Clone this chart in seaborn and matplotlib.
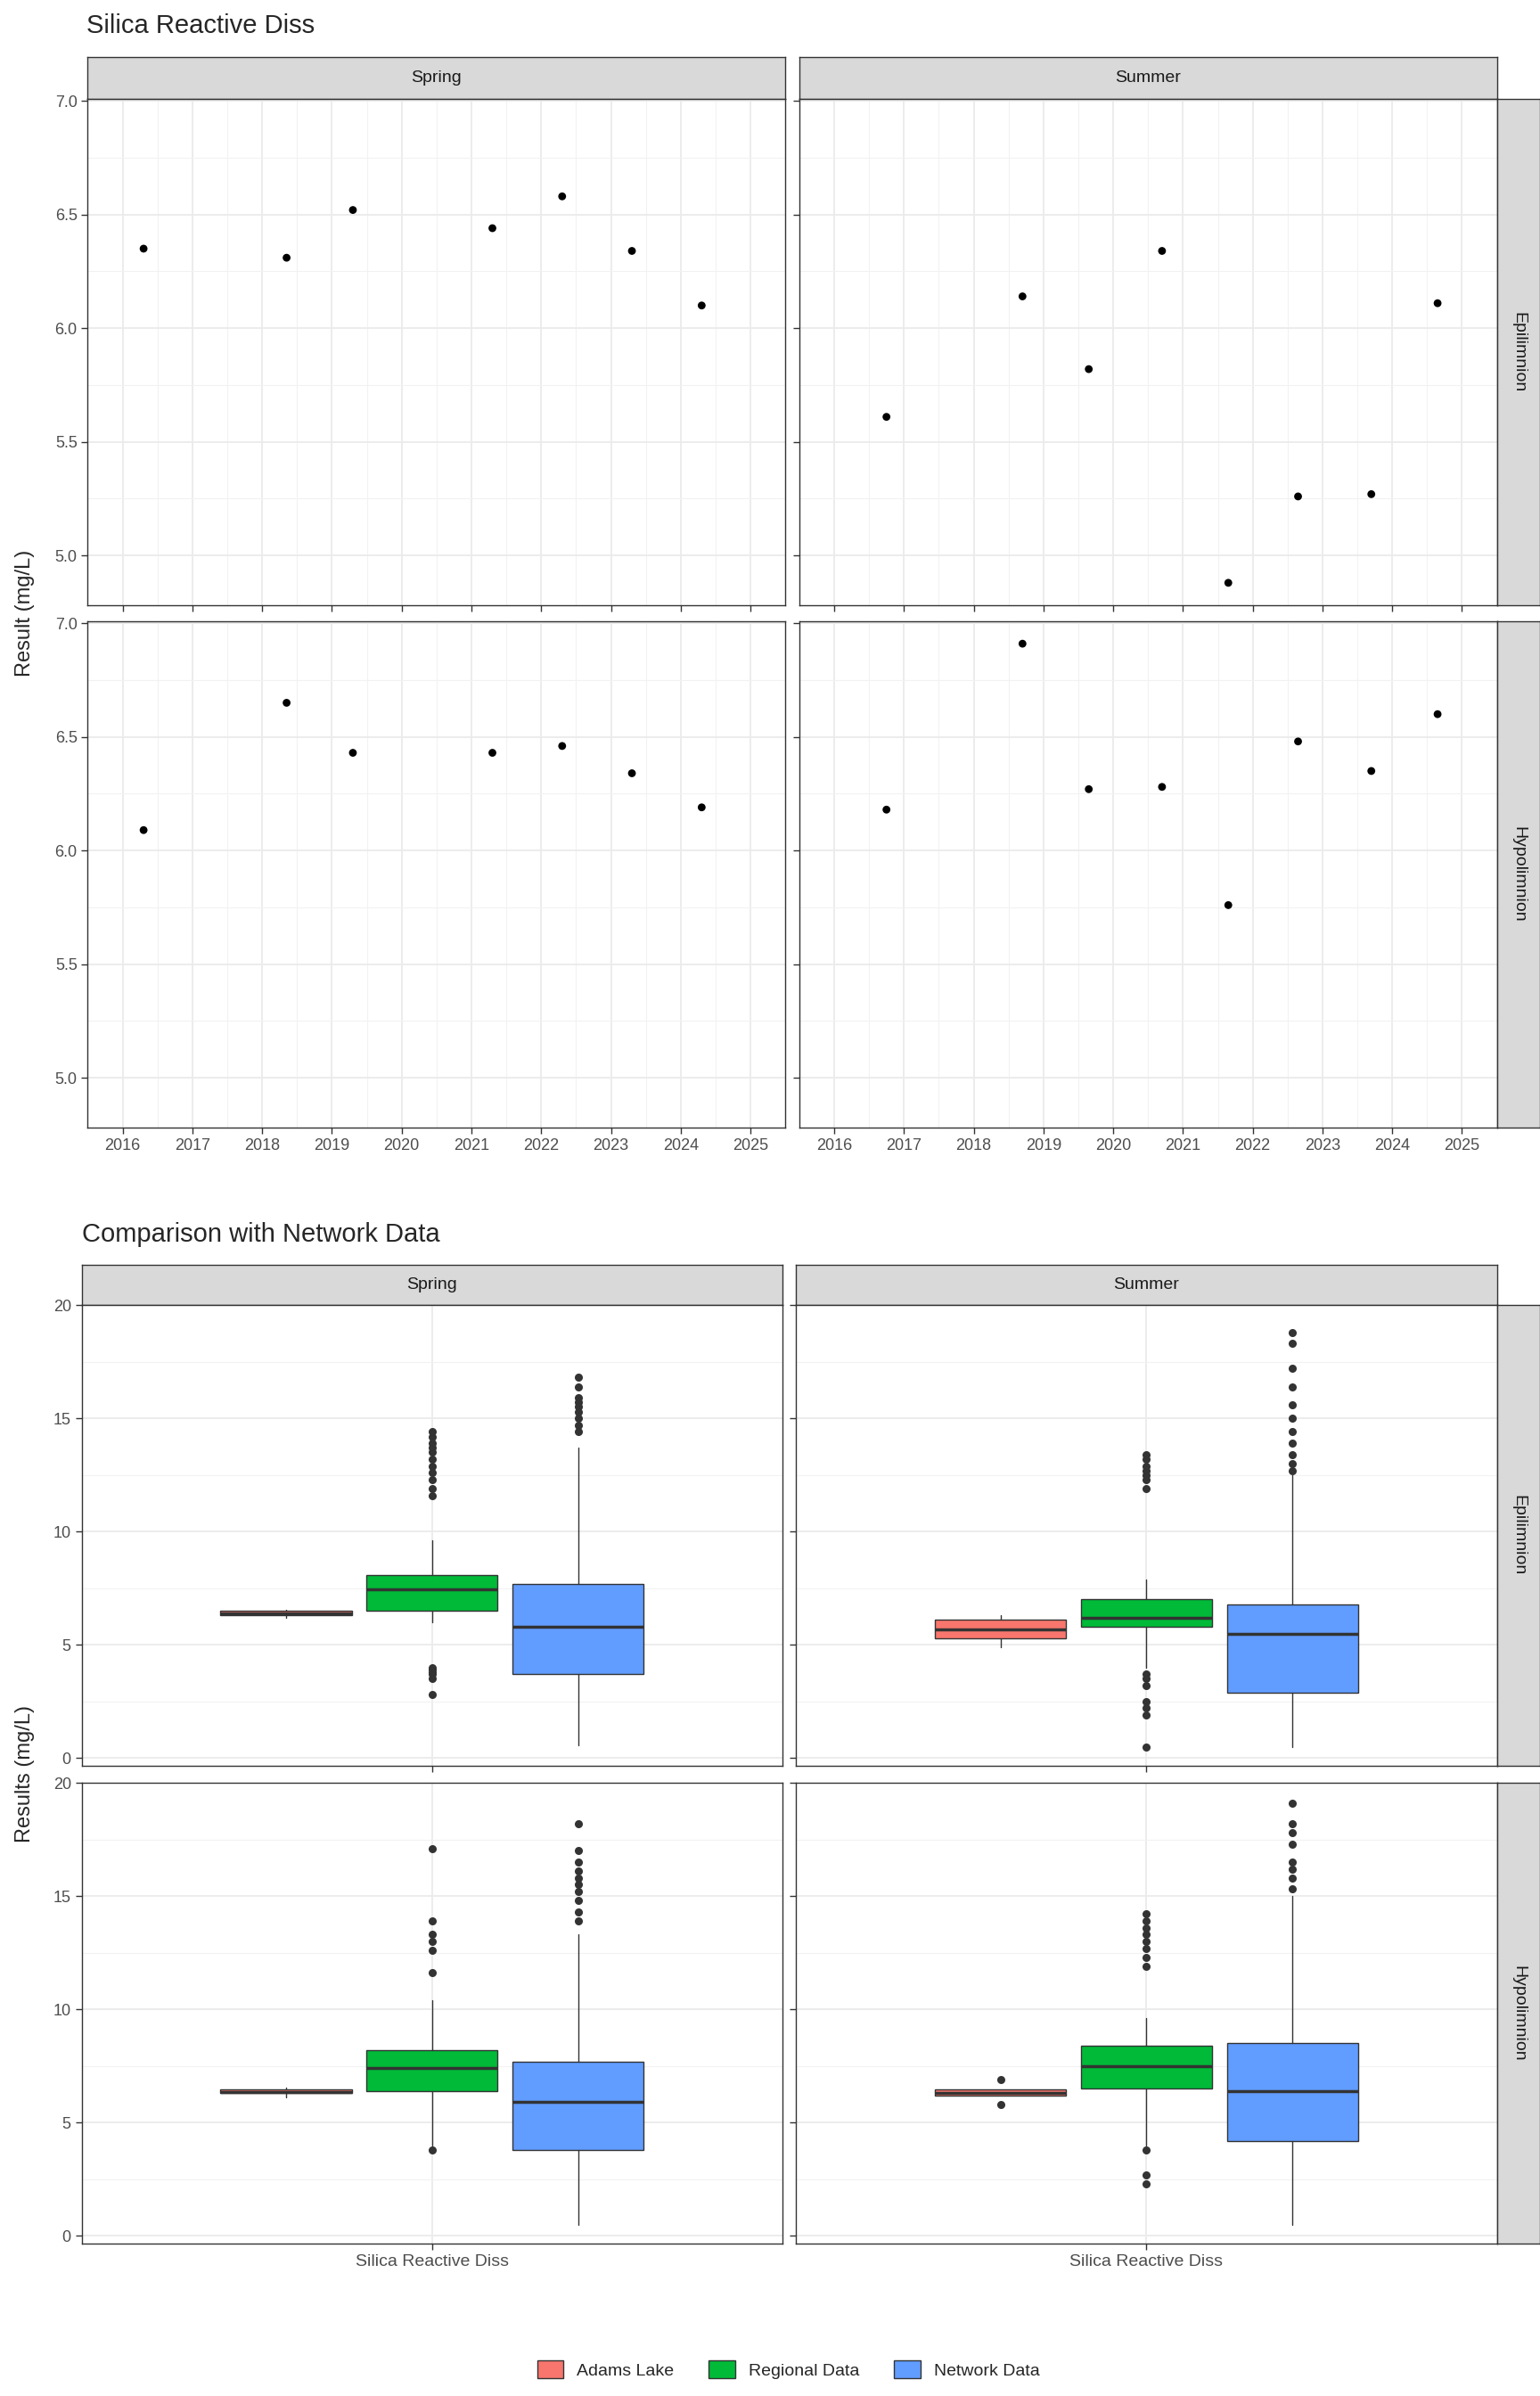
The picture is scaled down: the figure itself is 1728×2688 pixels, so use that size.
import matplotlib
matplotlib.use("Agg")
import matplotlib.pyplot as plt
import seaborn as sns
import pandas as pd
import numpy as np

seasons = ["Spring", "Summer"]
depths = ["Epilimnion", "Hypolimnion"]
spring_dates = [2016.3, 2018.35, 2019.3, 2021.3, 2022.3, 2023.3, 2024.3]
summer_dates = [2016.75, 2018.7, 2019.65, 2020.7, 2021.65, 2022.65, 2023.7, 2024.65]
spring_epi = [6.35, 6.31, 6.52, 6.44, 6.58, 6.34, 6.10]
summer_epi = [5.61, 6.14, 5.82, 6.34, 4.88, 5.26, 5.27, 6.11]
spring_hypo = [6.09, 6.65, 6.43, 6.43, 6.46, 6.34, 6.19]
summer_hypo = [6.18, 6.91, 6.27, 6.28, 5.76, 6.48, 6.35, 6.60]
year_ticks = list(range(2016, 2026))

groups = ["Adams Lake", "Regional Data", "Network Data"]
group_colors = ["#F8766D", "#00BA38", "#619CFF"]
# stats: (whislo, q1, med, q3, whishi, outliers)
box_stats = {
    ("Spring", "Epilimnion"): [
        (6.2, 6.3, 6.4, 6.5, 6.55, []),
        (6.0, 6.5, 7.45, 8.1, 9.6, [2.8, 3.5, 3.7, 3.8, 3.9, 4.0, 11.6, 11.9, 12.3, 12.6, 12.9, 13.2, 13.5, 13.7, 13.9, 14.2, 14.4]),
        (0.55, 3.7, 5.8, 7.7, 13.7, [14.4, 14.7, 15.0, 15.3, 15.5, 15.7, 15.9, 16.4, 16.8]),
    ],
    ("Summer", "Epilimnion"): [
        (4.9, 5.3, 5.7, 6.1, 6.3, []),
        (4.0, 5.8, 6.2, 7.0, 7.9, [0.5, 1.9, 2.2, 2.5, 3.2, 3.5, 3.7, 11.9, 12.3, 12.5, 12.7, 12.9, 13.2, 13.4]),
        (0.5, 2.9, 5.5, 6.8, 12.5, [12.7, 13.0, 13.4, 13.9, 14.4, 15.0, 15.6, 16.4, 17.2, 18.3, 18.8]),
    ],
    ("Spring", "Hypolimnion"): [
        (6.1, 6.3, 6.35, 6.45, 6.55, []),
        (4.0, 6.4, 7.4, 8.2, 10.4, [3.8, 11.6, 12.6, 13.0, 13.3, 13.9, 17.1]),
        (0.5, 3.8, 5.9, 7.7, 13.3, [13.9, 14.3, 14.8, 15.2, 15.5, 15.8, 16.1, 16.5, 17.0, 18.2]),
    ],
    ("Summer", "Hypolimnion"): [
        (6.2, 6.2, 6.3, 6.45, 6.45, [5.8, 6.9]),
        (4.0, 6.5, 7.5, 8.4, 9.6, [2.3, 2.7, 3.8, 11.9, 12.3, 12.7, 13.0, 13.3, 13.6, 13.9, 14.2]),
        (0.5, 4.2, 6.4, 8.5, 15.0, [15.3, 15.8, 16.2, 16.5, 17.3, 17.8, 18.2, 19.1]),
    ],
}

sns.set_theme(style="white")
plt.rcParams["font.family"] = "Liberation Sans"
W, H = 1000.0, 1555.0
fig = plt.figure(figsize=(17.28, 26.88), dpi=100)

def ax_at(x0, y0, x1, y1):
    return fig.add_axes([x0 / W, 1 - y1 / H, (x1 - x0) / W, (y1 - y0) / H])

def strip_top(x0, x1, y0, y1, text):
    a = ax_at(x0, y0, x1, y1)
    a.set_facecolor("#D9D9D9"); a.set_xticks([]); a.set_yticks([])
    for s in a.spines.values():
        s.set_color("#333333"); s.set_linewidth(1.0)
    a.text(0.5, 0.5, text, ha="center", va="center", fontsize=14, color="#1A1A1A", transform=a.transAxes)

def strip_right(x0, x1, y0, y1, text):
    a = ax_at(x0, y0, x1, y1)
    a.set_facecolor("#D9D9D9"); a.set_xticks([]); a.set_yticks([])
    for s in a.spines.values():
        s.set_color("#333333"); s.set_linewidth(1.0)
    a.text(0.5, 0.5, text, ha="center", va="center", rotation=-90, fontsize=14, color="#1A1A1A", transform=a.transAxes)

def style(ax):
    ax.set_facecolor("white")
    for s in ax.spines.values():
        s.set_color("#333333"); s.set_linewidth(1.0); s.set_visible(True)
    ax.grid(True, which="major", color="#EBEBEB", linewidth=1.3)
    ax.grid(True, which="minor", color="#F2F2F2", linewidth=0.8)
    ax.set_axisbelow(True)
    ax.tick_params(axis="both", which="major", labelsize=13, labelcolor="#4D4D4D", color="#333333", length=5, width=1, left=True, bottom=True)
    ax.tick_params(which="minor", length=0)
    ax.set_xlabel(""); ax.set_ylabel("")

# ---- Top section
fig.text(56 / W, 1 - 17 / H, "Silica Reactive Diss", fontsize=21, va="center", ha="left")
cols = [(57, 510), (519, 972)]
rows = [(64, 393), (403, 732)]
pts = {("Spring", "Epilimnion"): (spring_dates, spring_epi), ("Summer", "Epilimnion"): (summer_dates, summer_epi),
       ("Spring", "Hypolimnion"): (spring_dates, spring_hypo), ("Summer", "Hypolimnion"): (summer_dates, summer_hypo)}
for ci, se in enumerate(seasons):
    strip_top(cols[ci][0], cols[ci][1], 37, 64, se)
    for ri, de in enumerate(depths):
        ax = ax_at(cols[ci][0], rows[ri][0], cols[ci][1], rows[ri][1])
        x, y = pts[(se, de)]
        sns.scatterplot(x=x, y=y, ax=ax, color="black", s=40, edgecolor="none")
        ax.set_xlim(2015.59, 2025.46); ax.set_ylim(4.78, 7.01)
        ax.set_xticks(year_ticks); ax.set_xticks(np.arange(2015.5, 2025.6, 1), minor=True)
        ax.set_yticks([5.0, 5.5, 6.0, 6.5, 7.0]); ax.set_yticks(np.arange(5.25, 7.0, 0.5), minor=True)
        style(ax)
        if ci == 1:
            ax.set_yticklabels([])
        else:
            ax.set_yticklabels(["5.0", "5.5", "6.0", "6.5", "7.0"])
        if ri == 0:
            ax.set_xticklabels([])
for ri, de in enumerate(depths):
    strip_right(972, 1000, rows[ri][0], rows[ri][1], de)
fig.text(16 / W, 1 - 398 / H, "Result (mg/L)", rotation=90, fontsize=17, va="center", ha="center")

# ---- Bottom section
fig.text(53 / W, 1 - 801 / H, "Comparison with Network Data", fontsize=21, va="center", ha="left")
cols2 = [(53, 508), (517, 972)]
rows2 = [(847, 1146), (1157, 1456)]
positions = [-0.25, 0.0, 0.25]
for ci, se in enumerate(seasons):
    strip_top(cols2[ci][0], cols2[ci][1], 821, 847, se)
    for ri, de in enumerate(depths):
        ax = ax_at(cols2[ci][0], rows2[ri][0], cols2[ci][1], rows2[ri][1])
        st = [dict(whislo=a, q1=b, med=c, q3=d, whishi=e, fliers=f) for (a, b, c, d, e, f) in box_stats[(se, de)]]
        bp = ax.bxp(st, positions=positions, widths=0.225, patch_artist=True, showfliers=True,
                    medianprops=dict(color="#333333", linewidth=2.5),
                    whiskerprops=dict(color="#333333", linewidth=1), capprops=dict(linewidth=0),
                    boxprops=dict(edgecolor="#333333", linewidth=1),
                    flierprops=dict(marker="o", markerfacecolor="#333333", markeredgecolor="none", markersize=6.5))
        for patch, col in zip(bp["boxes"], group_colors):
            patch.set_facecolor(col)
        ax.set_xlim(-0.6, 0.6); ax.set_ylim(-0.34, 20.0)
        ax.set_yticks([0, 5, 10, 15, 20]); ax.set_yticks([2.5, 7.5, 12.5, 17.5], minor=True)
        ax.set_xticks([0])
        style(ax)
        ax.set_xticklabels(["Silica Reactive Diss"] if ri == 1 else [""])
        ax.tick_params(axis="x", labelsize=14)
        if ci == 1:
            ax.set_yticklabels([])
        else:
            ax.set_yticklabels(["0", "5", "10", "15", "20"])
for ri, de in enumerate(depths):
    strip_right(972, 1000, rows2[ri][0], rows2[ri][1], de)
fig.text(16 / W, 1 - 1151 / H, "Results (mg/L)", rotation=90, fontsize=17, va="center", ha="center")

# Legend
from matplotlib.patches import Patch
handles = [Patch(facecolor=c, edgecolor="#333333", label=g) for g, c in zip(groups, group_colors)]
fig.legend(handles=handles, loc="center", bbox_to_anchor=(0.512, 1 - 1538 / H), ncol=3, frameon=False,
           fontsize=14, handlelength=1.5, handleheight=1.2, columnspacing=2.0)

fig.savefig("out.png", dpi=100, facecolor="white")
